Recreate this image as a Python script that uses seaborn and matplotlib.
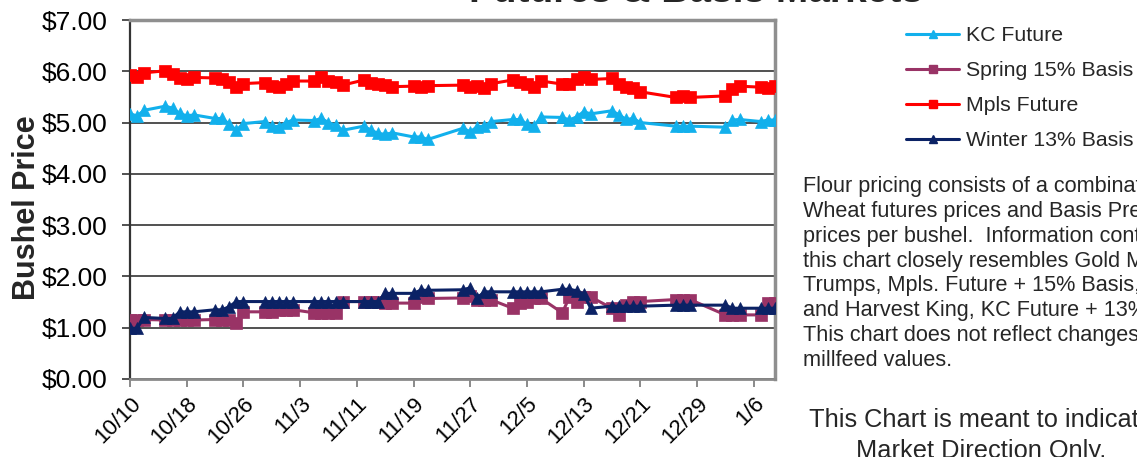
import numpy as np
import pandas as pd
import matplotlib
matplotlib.use("Agg")
import matplotlib.pyplot as plt
import seaborn as sns
from matplotlib.lines import Line2D

# ---------------- data ----------------
dates = [
    "2018-10-10", "2018-10-11", "2018-10-12",
    "2018-10-15", "2018-10-16", "2018-10-17", "2018-10-18", "2018-10-19",
    "2018-10-22", "2018-10-23", "2018-10-24", "2018-10-25", "2018-10-26",
    "2018-10-29", "2018-10-30", "2018-10-31", "2018-11-01", "2018-11-02",
    "2018-11-05", "2018-11-06", "2018-11-07", "2018-11-08", "2018-11-09",
    "2018-11-12", "2018-11-13", "2018-11-14", "2018-11-15", "2018-11-16",
    "2018-11-19", "2018-11-20", "2018-11-21",
    "2018-11-26", "2018-11-27", "2018-11-28", "2018-11-29", "2018-11-30",
    "2018-12-03", "2018-12-04", "2018-12-05", "2018-12-06", "2018-12-07",
    "2018-12-10", "2018-12-11", "2018-12-12", "2018-12-13", "2018-12-14",
    "2018-12-17", "2018-12-18", "2018-12-19", "2018-12-20", "2018-12-21",
    "2018-12-26", "2018-12-27", "2018-12-28",
    "2019-01-02", "2019-01-03", "2019-01-04",
    "2019-01-07", "2019-01-08", "2019-01-09",
]

kc_future = [
    5.17, 5.13, 5.24,
    5.32, 5.28, 5.18, 5.13, 5.15,
    5.08, 5.08, 4.97, 4.85, 4.98,
    5.02, 4.93, 4.92, 5.00, 5.05,
    5.04, 5.08, 5.00, 4.95, 4.85,
    4.93, 4.85, 4.79, 4.77, 4.80,
    4.72, 4.72, 4.67,
    4.89, 4.82, 4.92, 4.93, 5.02,
    5.06, 5.06, 4.97, 4.93, 5.11,
    5.10, 5.05, 5.11, 5.21, 5.17,
    5.23, 5.15, 5.06, 5.08, 5.00,
    4.93, 4.93, 4.93,
    4.91, 5.05, 5.06,
    5.02, 5.05, 5.05,
]

spring_basis = [
    1.15, 1.15, 1.16,
    1.15, 1.15, 1.15, 1.15, 1.15,
    1.16, 1.16, 1.15, 1.10, 1.31,
    1.31, 1.31, 1.35, 1.35, 1.35,
    1.29, 1.29, 1.29, 1.29, 1.51,
    1.51, 1.51, 1.51, 1.48, 1.48,
    1.48, 1.60, 1.57,
    1.58, 1.62, 1.55, 1.54, 1.54,
    1.38, 1.49, 1.51, 1.57, 1.57,
    1.29, 1.60, 1.51, 1.60, 1.60,
    1.38, 1.25, 1.44, 1.51, 1.51,
    1.55, 1.55, 1.55,
    1.25, 1.25, 1.25,
    1.25, 1.49, 1.49,
]

mpls_future = [
    5.93, 5.89, 5.97,
    6.01, 5.95, 5.86, 5.84, 5.88,
    5.87, 5.85, 5.80, 5.69, 5.76,
    5.78, 5.71, 5.69, 5.76, 5.81,
    5.81, 5.89, 5.81, 5.80, 5.73,
    5.83, 5.78, 5.75, 5.74, 5.70,
    5.71, 5.69, 5.72,
    5.73, 5.70, 5.71, 5.67, 5.76,
    5.83, 5.80, 5.76, 5.69, 5.81,
    5.75, 5.75, 5.84, 5.89, 5.84,
    5.86, 5.76, 5.69, 5.67, 5.60,
    5.49, 5.52, 5.49,
    5.52, 5.65, 5.71,
    5.69, 5.67, 5.71,
]

winter_basis = [
    0.99, 0.99, 1.20,
    1.18, 1.18, 1.31, 1.31, 1.31,
    1.35, 1.35, 1.41, 1.51, 1.51,
    1.51, 1.51, 1.51, 1.51, 1.51,
    1.51, 1.51, 1.51, 1.51, 1.51,
    1.51, 1.51, 1.51, 1.67, 1.67,
    1.67, 1.73, 1.73,
    1.74, 1.78, 1.58, 1.70, 1.70,
    1.70, 1.70, 1.70, 1.70, 1.70,
    1.75, 1.75, 1.72, 1.66, 1.38,
    1.42, 1.42, 1.42, 1.42, 1.42,
    1.44, 1.44, 1.44,
    1.44, 1.38, 1.38,
    1.38, 1.38, 1.38,
]

series_names = ["KC Future", "Spring 15% Basis", "Mpls Future", "Winter 13% Basis"]
tick_dates = ["2018-10-10", "2018-10-18", "2018-10-26", "2018-11-03", "2018-11-11",
              "2018-11-19", "2018-11-27", "2018-12-05", "2018-12-13", "2018-12-21",
              "2018-12-29", "2019-01-06"]
tick_labels = ["10/10", "10/18", "10/26", "11/3", "11/11", "11/19", "11/27",
               "12/5", "12/13", "12/21", "12/29", "1/6"]
y_ticks = [0, 1, 2, 3, 4, 5, 6, 7]
x_limits = ["2018-10-10", "2019-01-09"]

title = "Futures & Basis Markets"
y_label = "Bushel Price"
note_text = ("Flour pricing consists of a combination of\n"
             "Wheat futures prices and Basis Premium\n"
             "prices per bushel.  Information contained in\n"
             "this chart closely resembles Gold Medal\n"
             "Trumps, Mpls. Future + 15% Basis,\n"
             "and Harvest King, KC Future + 13% Basis.\n"
             "This chart does not reflect changes in\n"
             "millfeed values.")
disclaimer = "This Chart is meant to indicate\nMarket Direction Only."

# ---------------- style ----------------
sns.set_style("white")
plt.rcParams["font.family"] = ["Liberation Sans", "DejaVu Sans"]

W, H = 1137, 457
fig = plt.figure(figsize=(W / 100, H / 100), dpi=100)
ax = fig.add_axes([130 / W, 78 / H, 645 / W, 359 / H])

x = pd.to_datetime(dates)
series_values = [kc_future, spring_basis, mpls_future, winter_basis]
styles = [
    dict(color="#12B0EC", marker="^", markersize=9),
    dict(color="#993366", marker="s", markersize=8),
    dict(color="#FF0000", marker="s", markersize=8.5),
    dict(color="#0B2265", marker="^", markersize=9),
]

for name, vals, st in zip(series_names, series_values, styles):
    sns.lineplot(x=x, y=vals, ax=ax, color=st["color"], marker=st["marker"],
                 markersize=st["markersize"], markeredgecolor=st["color"],
                 markeredgewidth=0.5, linewidth=2.2, legend=False, zorder=3)

ax.set_ylim(y_ticks[0], y_ticks[-1])
ax.set_xlim(pd.to_datetime(x_limits[0]), pd.to_datetime(x_limits[1]))
ax.set_yticks(y_ticks)
ax.set_yticklabels([f"${v:.2f}" for v in y_ticks])
ax.set_xticks(pd.to_datetime(tick_dates))
ax.set_xticklabels(tick_labels, rotation=45, ha="right", rotation_mode="anchor")

ax.yaxis.grid(True, color="#222222", linewidth=1.1)
ax.xaxis.grid(False)
ax.set_axisbelow(True)

ax.spines["left"].set_color("#333333")
ax.spines["left"].set_linewidth(1.6)
ax.spines["bottom"].set_color("#8a8a8a")
ax.spines["bottom"].set_linewidth(2.0)
ax.spines["top"].set_color("#8f8f8f")
ax.spines["top"].set_linewidth(2.5)
ax.spines["right"].set_color("#8f8f8f")
ax.spines["right"].set_linewidth(2.5)

ax.tick_params(axis="y", which="major", left=True, length=6, width=1.2,
               color="#333333", pad=10, labelsize=19, labelcolor="black")
ax.tick_params(axis="x", which="major", bottom=True, length=6, width=1.4,
               color="#8a8a8a", pad=4, labelsize=16, labelcolor="black")

ax.set_xlabel("")
ax.set_ylabel(y_label, fontsize=22, fontweight="bold")
ax.yaxis.set_label_coords(-88 / 645, 0.478)

# legend
handles = [Line2D([0], [0], color=st["color"], marker=st["marker"],
                  markersize=st["markersize"] * 0.7, linewidth=2.2)
           for st in styles]
fig.legend(handles, series_names, loc="upper left",
           bbox_to_anchor=(906 / W, 1 - 26 / H), frameon=False, fontsize=15.3,
           handlelength=2.5, handletextpad=0.3, labelspacing=0.76,
           borderpad=0, borderaxespad=0)

fig.text(696 / W, 1 - 2.5 / H, title, ha="center", va="baseline",
         fontsize=28, fontweight="bold")
fig.text(803 / W, 1 - 176 / H, note_text, ha="left", va="top",
         fontsize=15.6, linespacing=1.24)
fig.text(981 / W, 1 - 408 / H, disclaimer, ha="center", va="top",
         fontsize=18.3, linespacing=1.36)

fig.savefig("out.png", dpi=100)
